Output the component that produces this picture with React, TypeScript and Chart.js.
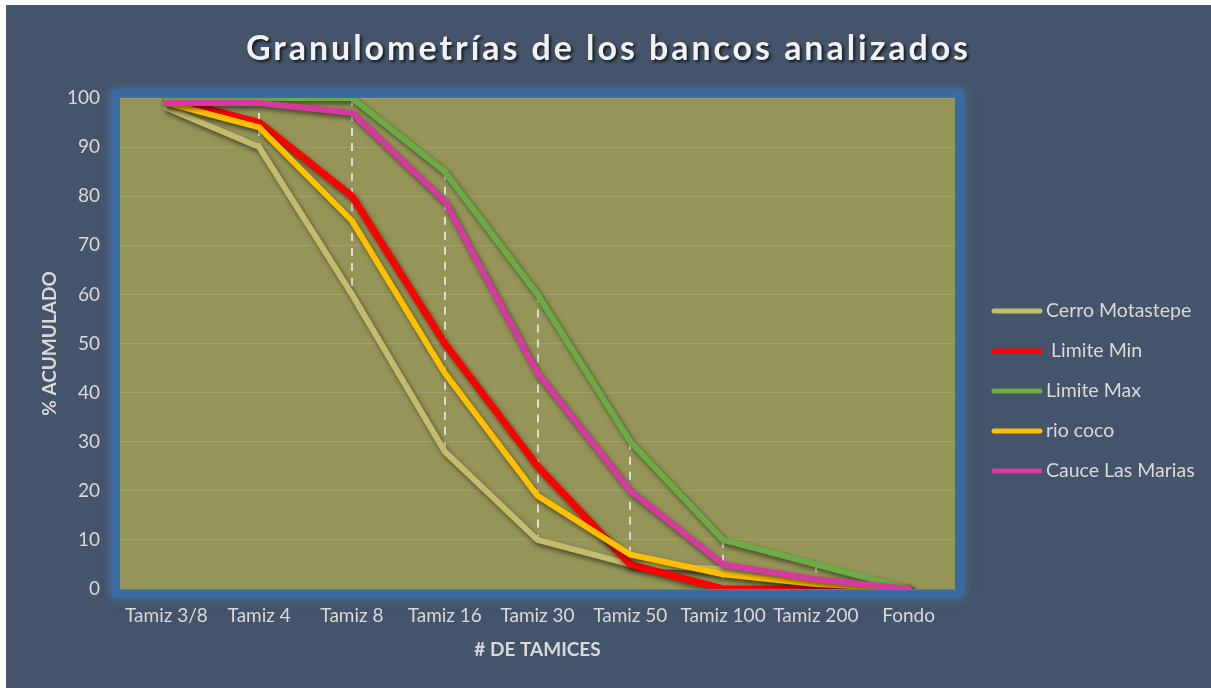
import React, { useEffect, useRef } from "react";
import { Chart, registerables } from "chart.js";

Chart.register(...registerables);

const categories = [
  "Tamiz 3/8",
  "Tamiz 4",
  "Tamiz 8",
  "Tamiz 16",
  "Tamiz 30",
  "Tamiz 50",
  "Tamiz 100",
  "Tamiz 200",
  "Fondo",
];
const cerroMotastepe = [98, 90, 60, 28, 10, 5, 4, 1, 0];
const limiteMin = [100, 95, 80, 50, 25, 5, 0, 0, 0];
const limiteMax = [100, 100, 100, 85, 60, 30, 10, 5, 0];
const rioCoco = [99, 94, 75, 44, 19, 7, 3, 1, 0];
const cauceLasMarias = [99, 99, 97, 79, 44, 20, 5, 2, 0];
const seriesNames = ["Cerro Motastepe", " Limite Min", "Limite Max", "rio coco", "Cauce Las Marias"];
const seriesColors = ["#c2bc6c", "#ff0000", "#6dab45", "#ffc000", "#d63aa0"];
const yMin = 0;
const yMax = 100;
const yStep = 10;
const titleText = "Granulometrías de los bancos analizados";
const xTitle = "# DE TAMICES";
const yTitle = "% ACUMULADO";

const FONT = "Lato, 'Open Sans', sans-serif";
const TEXT_COLOR = "#d9d9d9";

const backgroundPlugin = {
  id: "bgFrame",
  beforeDraw(chart: any) {
    const { ctx, chartArea: a, width, height } = chart;
    ctx.save();
    ctx.fillStyle = "#44546a";
    ctx.fillRect(0, 0, width, height);
    ctx.shadowColor = "rgba(80,140,210,0.75)";
    ctx.shadowBlur = 10;
    ctx.fillStyle = "#3a6ca3";
    ctx.fillRect(a.left - 8, a.top - 8, a.right - a.left + 16, a.bottom - a.top + 16);
    ctx.shadowColor = "transparent";
    ctx.shadowBlur = 0;
    ctx.fillStyle = "#969558";
    ctx.fillRect(a.left, a.top, a.right - a.left, a.bottom - a.top);
    ctx.restore();
  },
};

const hiLoPlugin = {
  id: "hiLo",
  beforeDatasetsDraw(chart: any) {
    const { ctx } = chart;
    const xs = chart.scales.x;
    const ys = chart.scales.y;
    const sets = chart.data.datasets;
    ctx.save();
    ctx.strokeStyle = "rgba(235,235,235,0.85)";
    ctx.lineWidth = 2;
    ctx.setLineDash([8, 7]);
    for (let i = 0; i < categories.length; i++) {
      const vals = sets.map((d: any) => d.data[i] as number);
      const hi = Math.max(...vals);
      const lo = Math.min(...vals);
      if (hi === lo) continue;
      const x = Math.round(xs.getPixelForValue(i));
      ctx.beginPath();
      ctx.moveTo(x, ys.getPixelForValue(hi));
      ctx.lineTo(x, ys.getPixelForValue(lo));
      ctx.stroke();
    }
    ctx.restore();
    ctx.save();
    ctx.shadowColor = "rgba(0,0,0,0.55)";
    ctx.shadowBlur = 5;
    ctx.shadowOffsetX = 2;
    ctx.shadowOffsetY = 3;
  },
  afterDatasetsDraw(chart: any) {
    chart.ctx.restore();
  },
};

const titleLegendPlugin = {
  id: "titleLegend",
  afterDraw(chart: any) {
    const { ctx, width } = chart;
    ctx.save();
    ctx.font = `bold 34px ${FONT}`;
    (ctx as any).letterSpacing = "0px";
    const w = ctx.measureText(titleText).width;
    const target = 725;
    const sp = Math.max(0, (target - w) / titleText.length);
    (ctx as any).letterSpacing = `${sp}px`;
    ctx.textAlign = "left";
    ctx.textBaseline = "middle";
    ctx.fillStyle = "#f2f2f2";
    ctx.shadowColor = "rgba(0,0,0,0.7)";
    ctx.shadowBlur = 3;
    ctx.shadowOffsetX = 2;
    ctx.shadowOffsetY = 2;
    ctx.fillText(titleText, width / 2 - target / 2, 44);
    ctx.restore();

    ctx.save();
    (ctx as any).letterSpacing = "0px";
    ctx.font = `19.5px ${FONT}`;
    ctx.textAlign = "left";
    ctx.textBaseline = "middle";
    seriesNames.forEach((name, i) => {
      const y = 306 + i * 40;
      ctx.strokeStyle = seriesColors[i];
      ctx.lineWidth = 5;
      ctx.lineCap = "round";
      ctx.beginPath();
      ctx.moveTo(988, y);
      ctx.lineTo(1034, y);
      ctx.stroke();
      ctx.fillStyle = TEXT_COLOR;
      ctx.fillText(name, 1040, y);
    });
    ctx.restore();
  },
};

export default function App() {
  const ref = useRef<HTMLCanvasElement | null>(null);
  useEffect(() => {
    if (!ref.current) return;
    const all = [cerroMotastepe, limiteMin, limiteMax, rioCoco, cauceLasMarias];
    const chart = new Chart(ref.current, {
      type: "line",
      data: {
        labels: categories,
        datasets: all.map((d, i) => ({
          label: seriesNames[i],
          data: d,
          borderColor: seriesColors[i],
          backgroundColor: seriesColors[i],
          borderWidth: i === 1 ? 7 : 6,
          pointRadius: 0,
          pointHoverRadius: 0,
          tension: 0,
          fill: false,
          borderJoinStyle: "round" as const,
          borderCapStyle: "round" as const,
          order: all.length - i,
        })),
      },
      options: {
        responsive: false,
        animation: false,
        devicePixelRatio: 1,
        layout: { padding: { left: 0, right: 256, top: 93, bottom: 0 } },
        plugins: {
          legend: { display: false },
          title: { display: false },
          tooltip: { enabled: false },
        },
        scales: {
          x: {
            type: "category",
            offset: true,
            grid: { display: false, drawTicks: false },
            border: { display: false },
            ticks: {
              color: TEXT_COLOR,
              font: { family: FONT, size: 19 },
              padding: 15,
              autoSkip: false,
              maxRotation: 0,
            },
            title: {
              display: true,
              text: xTitle,
              color: TEXT_COLOR,
              font: { family: FONT, size: 19, weight: "bold" },
              padding: { top: 0, bottom: 27 },
            },
            afterFit(scale: any) {
              scale.height = 99;
            },
          },
          y: {
            min: yMin,
            max: yMax,
            grid: { color: "rgba(255,255,255,0.12)", lineWidth: 1, drawTicks: false },
            border: { display: false },
            ticks: {
              stepSize: yStep,
              color: TEXT_COLOR,
              font: { family: FONT, size: 19 },
              padding: 20,
            },
            title: {
              display: true,
              text: yTitle,
              color: TEXT_COLOR,
              font: { family: FONT, size: 19, weight: "bold" },
              padding: { top: 32, bottom: 0 },
            },
            afterFit(scale: any) {
              scale.width = 114;
            },
          },
        },
      },
      plugins: [backgroundPlugin, hiLoPlugin, titleLegendPlugin],
    });
    return () => chart.destroy();
  }, []);
  return (
    <div style={{ position: "absolute", left: 6, top: 5, width: 1205, height: 683 }}>
      <canvas ref={ref} width={1205} height={683} style={{ display: "block" }} />
    </div>
  );
}
